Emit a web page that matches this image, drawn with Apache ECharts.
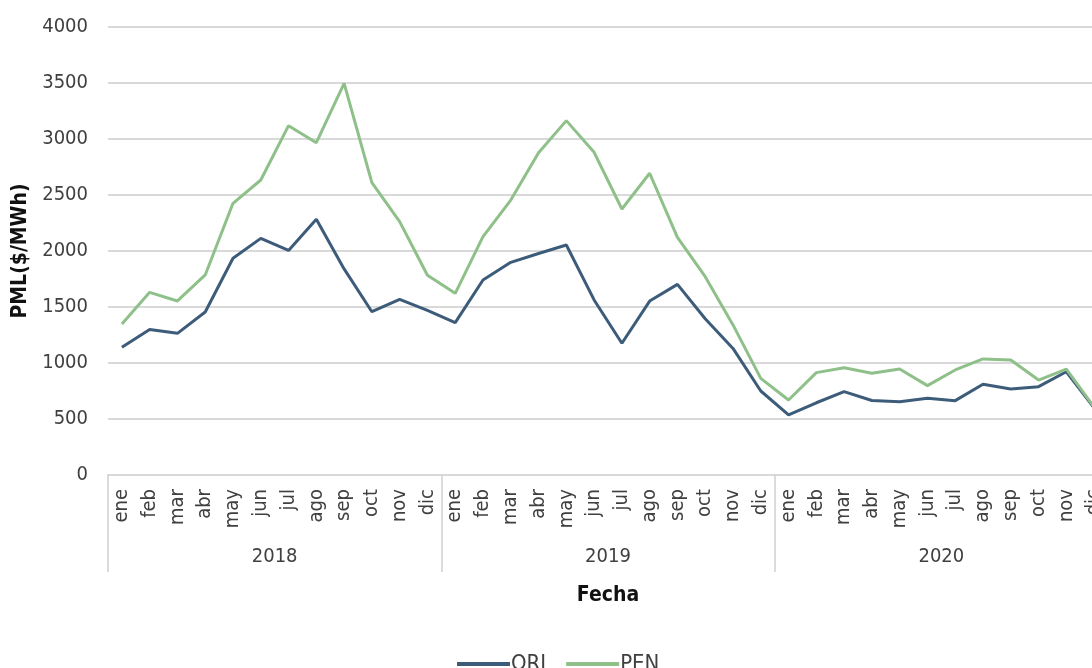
<!DOCTYPE html>
<html>
<head>
<meta charset="utf-8">
<script src="https://cdn.jsdelivr.net/npm/echarts@6/dist/echarts.min.js"></script>
<style>
html,body{margin:0;padding:0;background:#fff;overflow:hidden;width:1092px;height:668px;}
#chart{width:1108px;height:668px;}
</style>
</head>
<body>
<div id="chart"></div>
<script>
var months = ['ene','feb','mar','abr','may','jun','jul','ago','sep','oct','nov','dic'];
var years = ['2018','2019','2020'];
var categories = [].concat(months, months, months);
var yTicks = [0, 500, 1000, 1500, 2000, 2500, 3000, 3500, 4000];

var ORI = [1140, 1300, 1265, 1455, 1935, 2113, 2005, 2283, 1840, 1458, 1568, 1470,
           1360, 1741, 1899, 1978, 2054, 1563, 1176, 1553, 1702, 1395, 1130, 750,
           536, 645, 744, 665, 655, 685, 664, 810, 768, 789, 922, 600];
var PEN = [1348, 1631, 1554, 1786, 2426, 2634, 3119, 2967, 3497, 2610, 2262, 1783,
           1622, 2128, 2455, 2878, 3164, 2881, 2375, 2694, 2122, 1771, 1340, 863,
           670, 914, 958, 908, 946, 798, 938, 1036, 1027, 848, 946, 605];

var FONT = '"DejaVu Sans Condensed", "Liberation Sans Narrow", "Arial Narrow", sans-serif';
var chart = echarts.init(document.getElementById('chart'));
chart.setOption({
  animation: false,
  backgroundColor: '#ffffff',
  grid: {left: 108, right: 0, top: 27, bottom: 193, containLabel: false},
  legend: {
    data: ['ORI', 'PEN'],
    left: 452, top: 648,
    itemWidth: 53, itemHeight: 4, itemGap: 20,
    icon: 'rect',
    textStyle: {fontFamily: FONT, fontSize: 22, color: '#404040', padding: [0, 0, 0, -4]}
  },
  xAxis: [{
    type: 'category',
    data: categories,
    boundaryGap: true,
    axisLine: {show: true, lineStyle: {color: '#d9d9d9', width: 2}},
    axisTick: {show: false},
    axisLabel: {
      interval: 0, rotate: 90, margin: 14,
      fontFamily: FONT, fontSize: 20, color: '#404040'
    },
    name: 'Fecha',
    nameLocation: 'middle',
    nameGap: 110,
    nameTextStyle: {fontFamily: FONT, fontWeight: 'bold', fontSize: 21, color: '#111'}
  }, {
    type: 'category',
    data: years,
    position: 'bottom',
    boundaryGap: true,
    axisLine: {show: false},
    axisTick: {show: true, length: 97, interval: 0, lineStyle: {color: '#d0d0d0', width: 1.5}},
    axisLabel: {interval: 0, margin: 72, fontFamily: FONT, fontSize: 20, color: '#404040'}
  }],
  yAxis: {
    type: 'value',
    min: yTicks[0], max: yTicks[yTicks.length - 1], interval: 500,
    axisLine: {show: false},
    axisTick: {show: false},
    splitLine: {show: true, lineStyle: {color: '#d9d9d9', width: 2}},
    axisLabel: {margin: 20, fontFamily: FONT, fontSize: 20, color: '#404040',
      formatter: function (v) { return String(v); }},
    name: 'PML($/MWh)',
    nameLocation: 'middle',
    nameGap: 70,
    nameTextStyle: {fontFamily: FONT, fontWeight: 'bold', fontSize: 21, color: '#111'}
  },
  series: [{
    name: 'ORI', type: 'line', data: ORI, symbol: 'none', xAxisIndex: 0,
    lineStyle: {color: '#3d5c7a', width: 3}, itemStyle: {color: '#3d5c7a'}
  }, {
    name: 'PEN', type: 'line', data: PEN, symbol: 'none', xAxisIndex: 0,
    lineStyle: {color: '#8fc08a', width: 3}, itemStyle: {color: '#8fc08a'}
  }]
});
</script>
</body>
</html>
